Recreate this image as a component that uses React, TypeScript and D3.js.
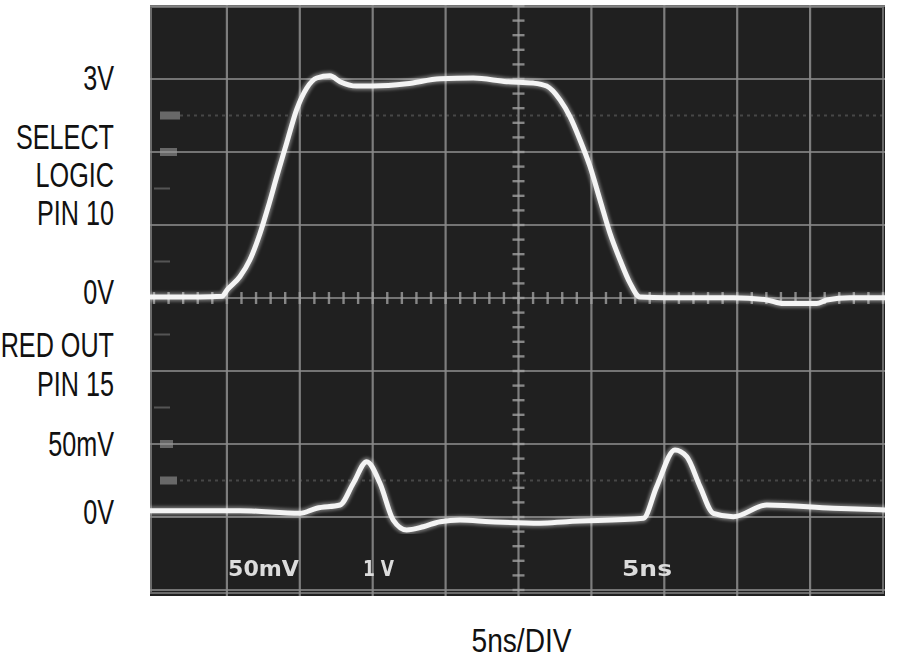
import React from 'react';
import * as d3 from 'd3';

// Upper trace: SELECT LOGIC (pin 10), time in ns, volts
const upperTimeNs = [-0.3, 3.16, 4.66, 5.03, 5.9, 6.58, 7.27, 7.84, 8.42, 9.1, 9.79, 10.47, 11.16, 12.07, 12.76, 13.9, 15.04, 17.33, 19.62, 21.9, 24.19, 26.01, 26.93, 27.85, 28.53, 29.22, 29.9, 30.59, 31.28, 31.96, 32.65, 33.33, 35.16, 39.73, 42.02, 43.16, 45.45, 46.14, 47.74, 50.3];
const upperVolts = [0, 0, 0.01, 0.1, 0.28, 0.51, 0.87, 1.24, 1.65, 2.11, 2.57, 2.86, 3.0, 3.03, 2.95, 2.89, 2.89, 2.92, 2.99, 3.0, 2.95, 2.93, 2.89, 2.7, 2.47, 2.15, 1.79, 1.33, 0.87, 0.51, 0.19, 0.0, -0.01, -0.01, -0.04, -0.09, -0.09, -0.04, -0.01, -0.01];

// Lower trace: RED OUT (pin 15), time in ns, millivolts
const lowerTimeNs = [-0.3, 5.9, 10.01, 11.16, 12.76, 13.67, 14.59, 15.5, 16.41, 17.33, 18.47, 19.62, 20.99, 23.05, 26.47, 28.31, 33.56, 34.48, 35.73, 36.54, 37.45, 38.36, 39.73, 42.02, 46.59, 50.3];
const lowerMilliVolts = [0.2, 0.2, -1.6, 1.9, 4.1, 19.0, 33.8, 19.0, -6.2, -13.0, -10.8, -7.3, -6.2, -7.3, -8.4, -7.3, -5.0, 16.7, 41.8, 37.2, 16.7, -1.6, -3.9, 4.1, 1.9, 0.7];

const timeTicksNs = [0, 5, 10, 15, 20, 25, 30, 35, 40, 45, 50];
const divisionTicks = [-4, -3, -2, -1, 0, 1, 2, 3, 4];
const screenLabels = ['50mV', '1 V', '5ns'];
const xAxisLabel = '5ns/DIV';

export default function App() {
  const W = 900, H = 662;
  const left = 150, right = 885, top = 5, bottom = 596;
  const x = d3.scaleLinear().domain([0, 50]).range([154, 883]);
  const gy = d3.scaleLinear().domain([-4, 4]).range([590, 6]);
  const yUp = d3.scaleLinear().domain([0, 1]).range([297, 224]);
  const yLo = d3.scaleLinear().domain([0, 50]).range([511, 438]);

  const upperLine = d3.line<number>()
    .x((_, i) => x(upperTimeNs[i]))
    .y((v) => yUp(v))
    .curve(d3.curveMonotoneX)(upperVolts) || '';
  const lowerLine = d3.line<number>()
    .x((_, i) => x(lowerTimeNs[i]))
    .y((v) => yLo(v))
    .curve(d3.curveMonotoneX)(lowerMilliVolts) || '';

  const minorX = d3.range(0, 50.01, 1);
  const minorY = d3.range(-4, 4.01, 0.2);
  const cx = x(25), cy = gy(0);

  const sideFont = "'Liberation Sans', Arial, sans-serif";
  const side = (txt: string, yb: number) => (
    <text key={txt + yb} transform={`translate(114,${yb}) scale(0.70,1)`} textAnchor="end"
      fontFamily={sideFont} fontSize={36} fill="#111">{txt}</text>
  );

  return (
    <svg width={W} height={H} style={{ position: 'absolute', left: 0, top: 0, background: '#fff' }}>
      <defs>
        <clipPath id="scr"><rect x={left} y={top} width={right - left} height={bottom - top} /></clipPath>
        <filter id="glow" x="-5%" y="-5%" width="110%" height="110%">
          <feGaussianBlur stdDeviation="1.6" />
        </filter>
        <filter id="soft"><feGaussianBlur stdDeviation="0.7" /></filter>
      </defs>
      <rect x={left} y={top} width={right - left} height={bottom - top} fill="#202020" />
      <g clipPath="url(#scr)">
        <rect x={left + 1} y={top + 2} width={right - left - 3} height={bottom - top - 5} fill="none" stroke="#6a6a6a" strokeWidth={2} />
        {timeTicksNs.slice(1, -1).map((t) => (
          <line key={'v' + t} x1={x(t)} x2={x(t)} y1={top} y2={bottom} stroke="#8e8e8e" strokeWidth={2.2} opacity={0.85} />
        ))}
        {divisionTicks.map((d) => (
          <line key={'h' + d} x1={left} x2={right} y1={gy(d)} y2={gy(d)} stroke="#8a8a8a" strokeWidth={2.2} opacity={0.8} />
        ))}
        {[gy(2.5), gy(-2.5)].map((yy, i) => (
          <line key={'r' + i} x1={left + 30} x2={right} y1={yy} y2={yy} stroke="#777" strokeWidth={2} strokeDasharray="3 4" opacity={0.45} />
        ))}
        {minorX.map((t) => (
          <line key={'mx' + t} x1={x(t)} x2={x(t)} y1={cy - 6} y2={cy + 6} stroke="#a0a0a0" strokeWidth={2.4} opacity={0.8} />
        ))}
        {minorY.map((d, i) => (
          <line key={'my' + i} x1={cx - 6} x2={cx + 6} y1={gy(d)} y2={gy(d)} stroke="#a0a0a0" strokeWidth={2.4} opacity={0.8} />
        ))}
        {[gy(2.5), gy(2), gy(-2), gy(-2.5)].map((yy, i) => (
          <rect key={'cm' + i} x={160} y={yy - 4} width={[20, 17, 13, 17][i]} height={8} fill="#9a9a9a" opacity={0.6} />
        ))}
        {[gy(1.5), gy(0.5), gy(-0.5), gy(-1.5)].map((yy, i) => (
          <line key={'lm' + i} x1={154} x2={170} y1={yy} y2={yy} stroke="#888" strokeWidth={2} opacity={0.5} />
        ))}
        <path d={upperLine} fill="none" stroke="#ffffff" strokeWidth={9} opacity={0.35} filter="url(#glow)" />
        <path d={upperLine} fill="none" stroke="#f4f4f4" strokeWidth={5} strokeLinejoin="round" />
        <path d={lowerLine} fill="none" stroke="#ffffff" strokeWidth={9} opacity={0.35} filter="url(#glow)" />
        <path d={lowerLine} fill="none" stroke="#f4f4f4" strokeWidth={5} strokeLinejoin="round" />
        <g filter="url(#soft)" fontFamily="'DejaVu Sans', sans-serif" fontWeight="bold" fontSize={22} fill="#dcdcdc">
          <text x={228} y={576} textLength={71} lengthAdjust="spacingAndGlyphs">{screenLabels[0]}</text>
          <text x={363} y={576} textLength={31} lengthAdjust="spacingAndGlyphs">{screenLabels[1]}</text>
          <text x={622} y={576} textLength={50} lengthAdjust="spacingAndGlyphs">{screenLabels[2]}</text>
        </g>
      </g>
      {side('3V', yUp(3) + 12)}
      {side('SELECT', 149)}
      {side('LOGIC', 187)}
      {side('PIN 10', 225)}
      {side('0V', yUp(0) + 7)}
      {side('RED OUT', 357)}
      {side('PIN 15', 396)}
      {side('50mV', yLo(50) + 18)}
      {side('0V', yLo(0) + 13)}
      <text x={(x(0) + x(50)) / 2 + 3} y={652} textAnchor="middle" fontFamily={sideFont} fontSize={34} fill="#111"
        textLength={100} lengthAdjust="spacingAndGlyphs">{xAxisLabel}</text>
    </svg>
  );
}
